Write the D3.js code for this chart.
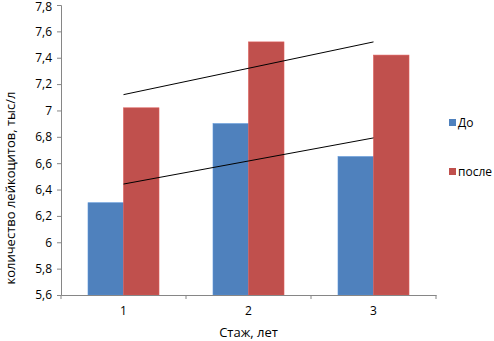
<!DOCTYPE html>
<html>
<head>
<meta charset="utf-8">
<script src="https://cdn.jsdelivr.net/npm/d3@7"></script>
<style>
  body { margin: 0; background: #fff; }
  text { font-family: "Open Sans", "Liberation Sans", sans-serif; fill: #000; }
</style>
</head>
<body>
<div id="main"></div>
<script>
// dataset
const categories = ['1', '2', '3'];
const seriesNames = ['До', 'после'];
const before = [6.30, 6.90, 6.65];
const after = [7.02, 7.52, 7.42];
const colors = ['#4f81bd', '#c0504d'];
const yTicks = [5.6, 5.8, 6, 6.2, 6.4, 6.6, 6.8, 7, 7.2, 7.4, 7.6, 7.8];

const W = 494, H = 341;
const plotLeft = 61, plotRight = 436, plotTop = 5, plotBottom = 295;

const svg = d3.select('#main').append('svg')
  .attr('width', W)
  .attr('height', H);

const yScale = d3.scaleLinear().domain([5.6, 7.8]).range([plotBottom, plotTop]);
const x0 = d3.scaleBand().domain(categories).range([plotLeft, plotRight])
  .paddingInner(0.432).paddingOuter(0.216);
const x1 = d3.scaleBand().domain(seriesNames).range([0, x0.bandwidth()]);

const series = [before, after];

// bars
series.forEach((vals, si) => {
  svg.append('g').selectAll('rect')
    .data(vals)
    .enter().append('rect')
    .attr('x', (d, i) => x0(categories[i]) + x1(seriesNames[si]))
    .attr('y', d => yScale(d))
    .attr('width', x1.bandwidth())
    .attr('height', d => plotBottom - yScale(d))
    .attr('fill', colors[si])
    .attr('stroke', d3.color(colors[si]).brighter(0.4))
    .attr('stroke-width', 0.6);
});

// linear trend lines
series.forEach(vals => {
  const xs = vals.map((d, i) => i + 1);
  const mx = d3.mean(xs), my = d3.mean(vals);
  const slope = d3.sum(xs.map((x, i) => (x - mx) * (vals[i] - my))) /
    d3.sum(xs.map(x => (x - mx) * (x - mx)));
  const icpt = my - slope * mx;
  const pts = [1, 3].map(x => [
    x0(categories[x - 1]) + x0.bandwidth() / 2,
    yScale(icpt + slope * x)
  ]);
  svg.append('path')
    .attr('d', d3.line()(pts))
    .attr('stroke', '#000')
    .attr('stroke-width', 1)
    .attr('fill', 'none');
});

// y axis
const yAxis = svg.append('g')
  .attr('transform', `translate(${plotLeft},0)`)
  .call(d3.axisLeft(yScale).tickValues(yTicks).tickSize(4)
    .tickFormat(d => String(d).replace('.', ',')));
yAxis.select('.domain').attr('stroke', '#868686');
yAxis.selectAll('.tick line').attr('stroke', '#868686');
yAxis.selectAll('.tick text').attr('font-size', 12).attr('x', -9).attr('fill', '#000');
// keep the top label inside the picture
yAxis.selectAll('.tick text').filter(d => d === 7.8).attr('y', 1.5);

// x axis
const xAxis = svg.append('g')
  .attr('transform', `translate(0,${plotBottom})`)
  .call(d3.axisBottom(x0).tickSize(0).tickSizeOuter(0));
xAxis.select('.domain').attr('stroke', '#868686');
xAxis.selectAll('.tick text').attr('font-size', 12).attr('dy', '1.45em').attr('fill', '#000');
// tick marks between categories
const bounds = [plotLeft].concat(categories.map(c => x0(c) + x0.bandwidth() / 2 + x0.step() / 2));
xAxis.selectAll('.sep')
  .data(bounds)
  .enter().append('line')
  .attr('x1', d => d).attr('x2', d => d)
  .attr('y1', 0).attr('y2', 4)
  .attr('stroke', '#868686');

// axis titles
svg.append('text')
  .attr('transform', 'translate(15,188) rotate(-90)')
  .attr('text-anchor', 'middle')
  .attr('font-size', 13)
  .text('количество лейкоцитов, тыс/л');

svg.append('text')
  .attr('x', (plotLeft + plotRight) / 2)
  .attr('y', 337)
  .attr('text-anchor', 'middle')
  .attr('font-size', 13)
  .text('Стаж, лет');

// legend
const legend = svg.append('g');
seriesNames.forEach((name, i) => {
  const ly = 123 + i * 49;
  legend.append('rect')
    .attr('x', 449).attr('y', ly - 4)
    .attr('width', 7).attr('height', 7)
    .attr('fill', colors[i]);
  legend.append('text')
    .attr('x', 458).attr('y', ly + 4)
    .attr('font-size', 12)
    .text(name);
});
</script>
</body>
</html>
